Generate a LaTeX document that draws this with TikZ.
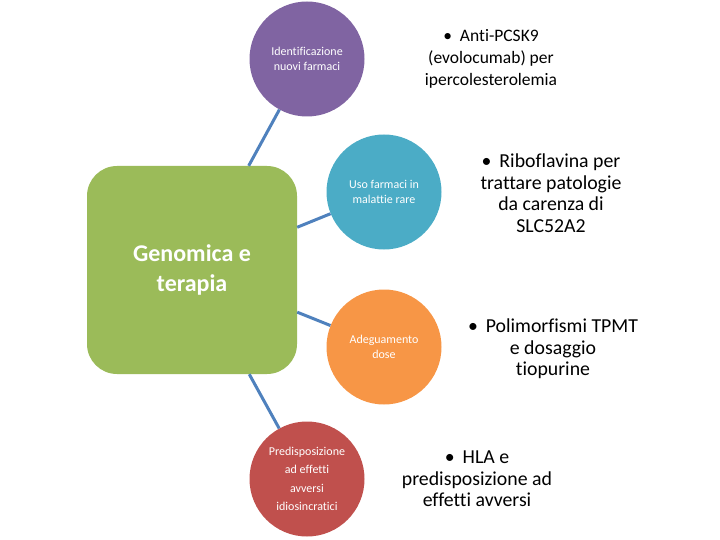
\documentclass[tikz,border=0pt]{standalone}
\usepackage{fontspec}
\setmainfont{Carlito}[Ligatures=NoCommon]
\definecolor{verde}{HTML}{9BBB59}
\definecolor{viola}{HTML}{8064A2}
\definecolor{azzurro}{HTML}{4BACC6}
\definecolor{arancio}{HTML}{F79646}
\definecolor{rosso}{HTML}{C0504D}
\definecolor{linea}{HTML}{4F81BD}

\newcommand{\punto}{\textbullet\hspace{8pt}}

\tikzset{
  tema/.style={circle, inner sep=0pt, minimum size=115pt, text=white, align=center,
    font=\fontsize{12}{14.5}\selectfont},
  esempio/.style={align=center, font=\fontsize{19.8}{21.5}\selectfont},
  ramo/.style={draw=linea, line width=3pt}
}

\begin{document}
\begin{tikzpicture}[x=1pt, y=-1pt]
        \useasboundingbox (0,0) rectangle (720,540);

        % nodo centrale
        \node[rounded corners=30pt, fill=verde, minimum width=210pt, minimum height=208pt,
              text=white, align=center, font=\fontsize{24}{30}\selectfont\bfseries] (G) at (192,270) {Genomica e\\terapia};

        % temi (cerchi)
        \node[tema, fill=viola] (ID) at (307,59) {Identificazione\\nuovi farmaci};
        \node[tema, fill=azzurro] (RARE) at (384,192) {Uso farmaci in\\malattie rare};
        \node[tema, fill=arancio] (DOSE) at (384,347) {Adeguamento\\dose};
        \node[tema, fill=rosso, font=\fontsize{12}{18.3}\selectfont] (ADR) at (307,479) {Predisposizione\\ad effetti\\avversi\\idiosincratici};

        % esempi
        \node[esempio, font=\fontsize{17.5}{22}\selectfont] (E1) at (491,59)
          {\punto Anti-PCSK9\hspace{40pt}\\(evolocumab) per\hspace{16pt}\\ipercolesterolemia};
        \node[esempio] (E2) at (551,193) {\punto Riboflavina per\hspace{6pt}\\trattare patologie\\da carenza di\\SLC52A2};
        \node[esempio] (E3) at (553,349) {\punto Polimorfismi TPMT\hspace{14pt}\\e dosaggio\\tiopurine};
        \node[esempio] (E4) at (477,479) {\punto HLA e\hspace{21pt}\\predisposizione ad\\effetti avversi};

        % collegamenti
        \draw[ramo] (G) -- (ID);
        \draw[ramo] (G) -- (RARE);
        \draw[ramo] (G) -- (DOSE);
        \draw[ramo] (G) -- (ADR);
\end{tikzpicture}
\end{document}
